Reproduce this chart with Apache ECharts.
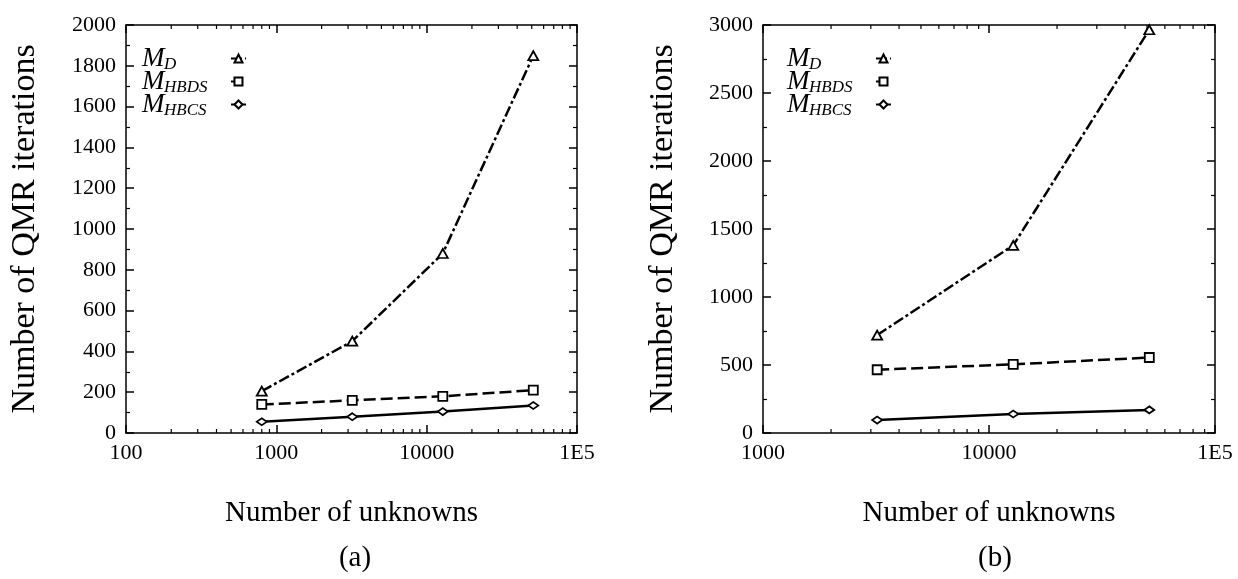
<!DOCTYPE html>
<html>
<head>
<meta charset="utf-8">
<script src="https://cdn.jsdelivr.net/npm/echarts@6/dist/echarts.min.js"></script>
<style>
html,body{margin:0;padding:0;background:#fff}
#chart{width:1238px;height:579px}
</style>
</head>
<body>
<div id="chart"></div>
<script>
// ---- Panel (a) ----
const unknownsA = [800, 3200, 12800, 51200];
const mdA   = [205, 450, 880, 1850];
const hbdsA = [140, 160, 180, 210];
const hbcsA = [55, 80, 105, 135];

// ---- Panel (b) ----
const unknownsB = [3200, 12800, 51200];
const mdB   = [720, 1380, 2965];
const hbdsB = [465, 505, 555];
const hbcsB = [95, 140, 170];

// ---- Axes ----
const yMaxA = 2000, yStepA = 200;
const yMaxB = 3000, yStepB = 500;
const xMinA = 100, xMaxA = 100000;
const xMinB = 1000, xMaxB = 100000;
const xTickLabels = { 100: '100', 1000: '1000', 10000: '10000', 100000: '1E5' };
const minorLogTicksA = [200, 300, 400, 500, 600, 700, 800, 900,
                        2000, 3000, 4000, 5000, 6000, 7000, 8000, 9000,
                        20000, 30000, 40000, 50000, 60000, 70000, 80000, 90000];
const minorLogTicksB = [2000, 3000, 4000, 5000, 6000, 7000, 8000, 9000,
                        20000, 30000, 40000, 50000, 60000, 70000, 80000, 90000];

// ---- Legend ----
const seriesNames = ['M_D', 'M_HBDS', 'M_HBCS'];
const legendSubs  = ['D', 'HBDS', 'HBCS'];

const SERIF = '"Liberation Serif", "DejaVu Serif", serif';
const BLACK = '#000';
const frameLine = { color: BLACK, width: 1.5 };

const seriesStyles = [
  { symbol: 'triangle', symbolSize: [10, 9], dash: [11, 3, 3, 3] },
  { symbol: 'rect',     symbolSize: 9,       dash: [12, 5] },
  { symbol: 'diamond',  symbolSize: [10, 7], dash: 'solid' }
];

function pairs(xs, ys) { return xs.map((x, i) => [x, ys[i]]); }

function lineSeries(k, axisIdx, xs, ys) {
  const st = seriesStyles[k];
  return {
    name: seriesNames[k],
    type: 'line',
    xAxisIndex: axisIdx,
    yAxisIndex: axisIdx,
    data: pairs(xs, ys),
    symbol: st.symbol,
    symbolSize: st.symbolSize,
    showAllSymbol: true,
    z: 3,
    lineStyle: { color: BLACK, width: 2.5, type: st.dash },
    itemStyle: { color: '#fff', borderColor: BLACK, borderWidth: 1.8 },
    emphasis: { disabled: true },
    animation: false
  };
}

// short inward ticks at 2..9 of each decade on bottom and top frame
function minorTickSeries(axisIdx, ticks, yMax) {
  return {
    type: 'custom',
    xAxisIndex: axisIdx,
    yAxisIndex: axisIdx,
    silent: true,
    clip: false,
    animation: false,
    data: ticks.map(v => [v, 0]),
    renderItem(params, api) {
      const v = api.value(0);
      const b = api.coord([v, 0]);
      const t = api.coord([v, yMax]);
      const s = { stroke: BLACK, lineWidth: 1.2 };
      return {
        type: 'group',
        children: [
          { type: 'line', shape: { x1: b[0], y1: b[1], x2: b[0], y2: b[1] - 4 }, style: s },
          { type: 'line', shape: { x1: t[0], y1: t[1], x2: t[0], y2: t[1] + 4 }, style: s }
        ]
      };
    }
  };
}

function xLabel(v) {
  const key = Math.round(v);
  return xTickLabels[key] !== undefined ? xTickLabels[key] : '';
}

function xAxes(grid, min, max) {
  const common = {
    type: 'log', logBase: 10, gridIndex: grid, min: min, max: max,
    axisLine: { show: true, onZero: false, lineStyle: frameLine },
    axisTick: { show: true, inside: true, length: 8, lineStyle: frameLine },
    minorTick: { show: false },
    splitLine: { show: false }
  };
  return [
    Object.assign({}, common, {
      position: 'bottom',
      axisLabel: { show: true, color: BLACK, fontFamily: SERIF, fontSize: 22, margin: 9, formatter: xLabel },
      name: 'Number of unknowns',
      nameLocation: 'middle',
      nameGap: 66,
      nameTextStyle: { color: BLACK, fontFamily: SERIF, fontSize: 29 }
    }),
    Object.assign({}, common, { position: 'top', axisLabel: { show: false } })
  ];
}

function yAxes(grid, max, step, gap) {
  const common = {
    type: 'value', gridIndex: grid, min: 0, max: max, interval: step,
    axisLine: { show: true, onZero: false, lineStyle: frameLine },
    axisTick: { show: true, inside: true, length: 8, lineStyle: frameLine },
    minorTick: { show: true, splitNumber: 2, length: 4, lineStyle: { color: BLACK, width: 1.2 } },
    splitLine: { show: false },
    minorSplitLine: { show: false }
  };
  return [
    Object.assign({}, common, {
      position: 'left',
      axisLabel: { show: true, color: BLACK, fontFamily: SERIF, fontSize: 22, margin: 10, formatter: v => String(v) },
      name: 'Number of QMR iterations',
      nameLocation: 'middle',
      nameGap: gap,
      nameRotate: 90,
      nameTextStyle: { color: BLACK, fontFamily: SERIF, fontSize: 34 }
    }),
    Object.assign({}, common, { position: 'right', axisLabel: { show: false } })
  ];
}

function legendItem(k, left, top) {
  return {
    show: true,
    data: [seriesNames[k]],
    left: left,
    top: top,
    padding: 0,
    align: 'right',
    itemWidth: 15,
    itemHeight: 10,
    selectedMode: false,
    formatter: () => '{m|M}{s|' + legendSubs[k] + '}',
    textStyle: {
      color: BLACK,
      rich: {
        m: { fontFamily: SERIF, fontStyle: 'italic', fontSize: 27, lineHeight: 30, width: 22, align: 'left', color: BLACK },
        s: { fontFamily: SERIF, fontStyle: 'italic', fontSize: 17, lineHeight: 18, width: 62, align: 'left', verticalAlign: 'bottom', color: BLACK }
      }
    }
  };
}

const legendTops = [45, 68, 91];

const option = {
  backgroundColor: '#fff',
  animation: false,
  grid: [
    { left: 126, top: 25, width: 451, height: 408, outerBoundsMode: 'none', containLabel: false },
    { left: 763, top: 25, width: 452, height: 408, outerBoundsMode: 'none', containLabel: false }
  ],
  xAxis: [].concat(xAxes(0, xMinA, xMaxA), xAxes(1, xMinB, xMaxB)),
  yAxis: [].concat(yAxes(0, yMaxA, yStepA, 84), yAxes(1, yMaxB, yStepB, 83)),
  legend: [
    legendItem(0, 142, legendTops[0]),
    legendItem(1, 142, legendTops[1]),
    legendItem(2, 142, legendTops[2]),
    legendItem(0, 787, legendTops[0]),
    legendItem(1, 787, legendTops[1]),
    legendItem(2, 787, legendTops[2])
  ],
  series: [
    lineSeries(0, 0, unknownsA, mdA),
    lineSeries(1, 0, unknownsA, hbdsA),
    lineSeries(2, 0, unknownsA, hbcsA),
    lineSeries(0, 2, unknownsB, mdB),
    lineSeries(1, 2, unknownsB, hbdsB),
    lineSeries(2, 2, unknownsB, hbcsB),
    minorTickSeries(0, minorLogTicksA, yMaxA),
    minorTickSeries(2, minorLogTicksB, yMaxB)
  ],
  graphic: [
    { type: 'text', x: 355, y: 558, style: { text: '(a)', font: '29px ' + SERIF, fill: BLACK, align: 'center', verticalAlign: 'middle' } },
    { type: 'text', x: 995, y: 558, style: { text: '(b)', font: '29px ' + SERIF, fill: BLACK, align: 'center', verticalAlign: 'middle' } }
  ]
};

const chart = echarts.init(document.getElementById('chart'), null, { renderer: 'canvas' });
chart.setOption(option);
</script>
</body>
</html>
